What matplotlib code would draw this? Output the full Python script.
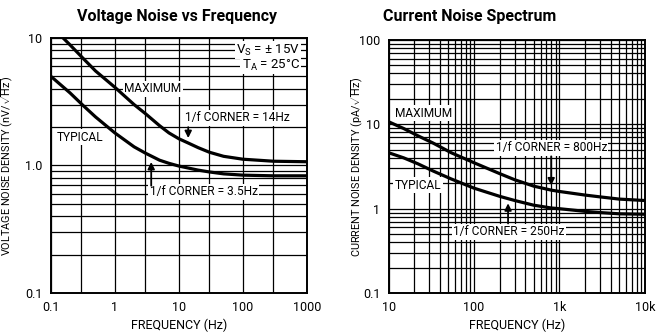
import matplotlib
matplotlib.use("Agg")
import matplotlib.pyplot as plt
from matplotlib.ticker import FixedLocator, NullFormatter

# Voltage noise (nV/rtHz)
v_freq_max = [0.155, 0.2, 0.32, 0.5, 1, 2, 3, 5, 7, 10, 14, 20, 30, 50, 100, 300, 1000]
v_max = [10.0, 8.8, 6.9, 5.5, 4.1, 3.0, 2.55, 2.05, 1.8, 1.62, 1.5, 1.38, 1.27, 1.18, 1.12, 1.08, 1.07]
v_freq_typ = [0.1, 0.2, 0.32, 0.5, 1, 2, 3, 5, 7, 10, 20, 30, 50, 100, 300, 1000]
v_typ = [5.0, 3.7, 2.95, 2.4, 1.8, 1.4, 1.25, 1.1, 1.04, 0.99, 0.92, 0.89, 0.86, 0.84, 0.83, 0.83]

# Current noise (pA/rtHz)
i_freq = [10, 15, 22, 33, 54, 100, 200, 300, 500, 800, 1000, 2000, 3000, 5000, 10000]
i_max = [10.7, 8.9, 7.3, 6.0, 4.6, 3.5, 2.6, 2.2, 1.85, 1.66, 1.6, 1.45, 1.38, 1.3, 1.25]
i_typ = [4.6, 4.0, 3.4, 2.8, 2.25, 1.75, 1.4, 1.25, 1.1, 1.02, 1.0, 0.93, 0.9, 0.87, 0.86]

plt.rcParams["font.family"] = ["Roboto", "DejaVu Sans"]
plt.rcParams["mathtext.fontset"] = "custom"
plt.rcParams["mathtext.rm"] = "Roboto"

fig = plt.figure(figsize=(6.6, 3.35), dpi=100)
ax1 = fig.add_axes([0.077, 0.125, 0.388, 0.762])
ax2 = fig.add_axes([0.589, 0.125, 0.388, 0.756])

minors = [m * 10.0 ** d for d in range(-2, 5) for m in range(2, 10)]


def style(ax):
    ax.set_xscale("log")
    ax.set_yscale("log")
    ax.grid(True, which="both", color="black", lw=0.9, zorder=1)
    ax.set_axisbelow(True)
    ax.tick_params(which="both", length=0, labelsize=9, pad=6)
    for s in ax.spines.values():
        s.set_linewidth(1.4)
    ax.yaxis.set_minor_locator(FixedLocator(minors))
    ax.yaxis.set_minor_formatter(NullFormatter())
    ax.xaxis.set_minor_formatter(NullFormatter())


box = dict(facecolor="white", edgecolor="none", pad=1.0)
fs = 8.6
arrow = dict(arrowstyle="-|>", color="black", lw=1.3, mutation_scale=10)

# ---- voltage noise ----
style(ax1)
ax1.set_xlim(0.1, 1000)
ax1.set_ylim(0.1, 10)
ax1.xaxis.set_major_locator(FixedLocator([0.1, 1, 10, 100, 1000]))
ax1.xaxis.set_minor_locator(FixedLocator([0.3, 3, 30, 300]))
ax1.set_xticklabels(["0.1", "1", "10", "100", "1000"])
ax1.yaxis.set_major_locator(FixedLocator([0.1, 1, 10]))
ax1.set_yticklabels(["0.1", "1.0", "10"])
ax1.plot(v_freq_max, v_max, color="black", lw=2.3, zorder=5)
ax1.plot(v_freq_typ, v_typ, color="black", lw=2.3, zorder=5)
ax1.set_xlabel("FREQUENCY (Hz)", fontsize=9, labelpad=3)
ax1.set_ylabel(r"VOLTAGE NOISE DENSITY (nV/$\sqrt{\mathrm{Hz}}$)", fontsize=7.8)
ax1.yaxis.set_label_coords(-0.14, 0.5)

ax1.text(780, 8.0, r"V$_\mathrm{S}$ = ± 15V", fontsize=9.5, ha="right", va="center", bbox=box, zorder=3)
ax1.text(780, 6.1, r"T$_\mathrm{A}$ = 25°C", fontsize=9.5, ha="right", va="center", bbox=box, zorder=3)
ax1.text(3.9, 4.0, "MAXIMUM", fontsize=fs, ha="center", va="center", bbox=box, zorder=3)
ax1.text(0.124, 1.67, "TYPICAL", fontsize=fs, ha="left", va="center", bbox=box, zorder=3)
ax1.text(12.4, 2.36, "1/f CORNER = 14Hz", fontsize=fs, ha="left", va="center", bbox=box, zorder=3)
ax1.annotate("", xy=(14, 1.56), xytext=(14, 2.1), zorder=6, arrowprops=arrow)
ax1.text(3.5, 0.62, "1/f CORNER = 3.5Hz", fontsize=fs, ha="left", va="center", bbox=box, zorder=3)
ax1.annotate("", xy=(3.7, 1.12), xytext=(3.7, 0.66), zorder=6, arrowprops=arrow)

# ---- current noise ----
style(ax2)
ax2.set_xlim(10, 10000)
ax2.set_ylim(0.1, 100)
ax2.xaxis.set_major_locator(FixedLocator([10, 100, 1000, 10000]))
ax2.xaxis.set_minor_locator(FixedLocator(minors))
ax2.set_xticklabels(["10", "100", "1k", "10k"])
ax2.yaxis.set_major_locator(FixedLocator([0.1, 1, 10, 100]))
ax2.set_yticklabels(["0.1", "1", "10", "100"])
ax2.plot(i_freq, i_max, color="black", lw=2.3, zorder=5)
ax2.plot(i_freq, i_typ, color="black", lw=2.3, zorder=5)
ax2.set_xlabel("FREQUENCY (Hz)", fontsize=9, labelpad=3)
ax2.set_ylabel(r"CURRENT NOISE DENSITY (pA/$\sqrt{\mathrm{Hz}}$)", fontsize=7.8)
ax2.yaxis.set_label_coords(-0.094, 0.5)

ax2.text(11.8, 13.6, "MAXIMUM", fontsize=fs, ha="left", va="center", bbox=box, zorder=3)
ax2.text(11.8, 1.9, "TYPICAL", fontsize=fs, ha="left", va="center", bbox=box, zorder=3)
ax2.text(800, 5.24, "1/f CORNER = 800Hz", fontsize=fs, ha="center", va="center", bbox=box, zorder=3)
ax2.annotate("", xy=(800, 1.75), xytext=(800, 4.5), zorder=6, arrowprops=arrow)
ax2.text(255, 0.53, "1/f CORNER = 250Hz", fontsize=fs, ha="center", va="center", bbox=box, zorder=3)
ax2.annotate("", xy=(250, 1.25), xytext=(250, 0.62), zorder=6, arrowprops=arrow)

fig.text(177 / 660, 1 - 16 / 335, "Voltage Noise vs Frequency", fontsize=11.5, fontweight="bold",
         ha="center", va="center")
fig.text(470 / 660, 1 - 16 / 335, "Current Noise Spectrum", fontsize=11.5, fontweight="bold",
         ha="center", va="center")

fig.savefig("out.png", dpi=100)
